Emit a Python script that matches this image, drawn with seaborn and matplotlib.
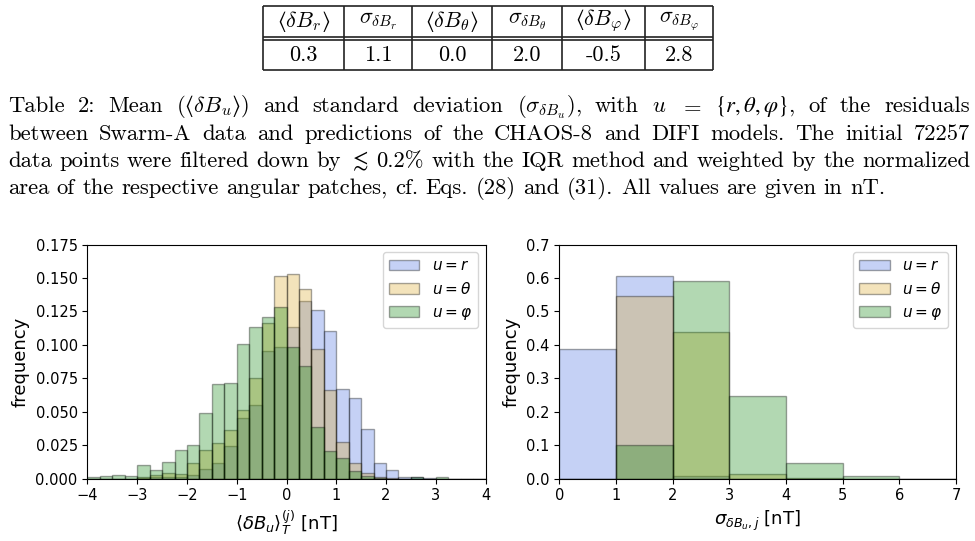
import numpy as np
import pandas as pd
import matplotlib
matplotlib.use("Agg")
import matplotlib.pyplot as plt
import seaborn as sns

# Table values
table_heads = ["$\u27e8\\delta B_r\u27e9$", r"$\sigma_{\delta B_r}$",
               "$\u27e8\\delta B_\\theta\u27e9$", r"$\sigma_{\delta B_\theta}$",
               "$\u27e8\\delta B_\\varphi\u27e9$", r"$\sigma_{\delta B_\varphi}$"]
table_vals = ["0.3", "1.1", "0.0", "2.0", "-0.5", "2.8"]

# Caption, one string per line (words separated by spaces)
caption_lines = [
    "Table 2:  Mean ($\u27e8\\delta{B}_u\u27e9$) and standard deviation ($\\sigma_{\\delta{B}_u}$), with $u$ $=$ $\\{r,\\theta,\\varphi\\}$, of the residuals",
    r"between Swarm-A data and predictions of the CHAOS-8 and DIFI models. The initial 72257",
    r"data points were filtered down by $\lesssim$ 0.2% with the IQR method and weighted by the normalized",
    r"area of the respective angular patches, cf. Eqs. (28) and (31). All values are given in nT.",
]

# Left panel: mean residuals, bins of 0.25 nT from -4 to 4
mean_edges = np.arange(-4, 4.001, 0.25)
mean_r = [0, 0, 0, 0, 0.0005, 0.0008, 0.001, 0.0015, 0.0025, 0.0073, 0.0118, 0.024,
          0.045, 0.055, 0.095, 0.098, 0.113, 0.133, 0.126, 0.110, 0.0666, 0.0599,
          0.037, 0.0115, 0.006, 0.0015, 0.001, 0.0003, 0, 0, 0, 0]
mean_theta = [0, 0, 0, 0, 0.0013, 0.0025, 0.004, 0.0035, 0.0118, 0.021, 0.0268, 0.036,
              0.051, 0.075, 0.116, 0.1515, 0.153, 0.1415, 0.097, 0.066, 0.0276, 0.0118,
              0.0038, 0.001, 0.0003, 0, 0, 0, 0, 0, 0, 0]
mean_phi = [0.001, 0.002, 0.003, 0.002, 0.010, 0.0065, 0.012, 0.021, 0.025, 0.049, 0.0706,
            0.0714, 0.1007, 0.113, 0.121, 0.128, 0.098, 0.084, 0.0386, 0.0205, 0.015,
            0.0055, 0.0017, 0.0005, 0, 0, 0.001, 0, 0.0015, 0, 0, 0]

# Right panel: standard deviations, bins of 1 nT from 0 to 7
sigma_edges = np.arange(0, 7.001, 1)
sigma_r = [0.386, 0.605, 0.008, 0, 0, 0, 0]
sigma_theta = [0, 0.545, 0.437, 0.013, 0.002, 0, 0]
sigma_phi = [0, 0.099, 0.591, 0.2455, 0.046, 0.008, 0]

labels = [r"$u = r$", r"$u = \theta$", r"$u = \varphi$"]
colors = ["royalblue", "goldenrod", "green"]

fig = plt.figure(figsize=(9.75, 5.41), dpi=100)

# overlay in pixel coordinates for table + caption
ov = fig.add_axes([0, 0, 1, 1])
ov.set_xlim(0, 975)
ov.set_ylim(541, 0)
ov.axis("off")

col_x = [263, 344, 412, 492, 562, 645, 713]
ov.hlines([6, 37, 40, 70], col_x[0], col_x[-1], color="#222222", lw=1.2)
ov.vlines(col_x, 6, 70, color="#222222", lw=1.2)
for i in range(len(table_heads)):
    xc = (col_x[i] + col_x[i + 1]) / 2
    ov.text(xc, 21, table_heads[i], ha="center", va="center", fontsize=16,
            math_fontfamily="cm")
    ov.text(xc, 55, table_vals[i], ha="center", va="center", fontsize=16,
            family="cmr10", math_fontfamily="cm")

# justified caption
renderer = fig.canvas.get_renderer()
cap_left, cap_right = 8, 970
baselines = [112, 140, 167, 194]
cap_size = 16.3
for k, line in enumerate(caption_lines):
    words = line.split()
    texts = []
    for w in words:
        # cm braces come out oversized, stix ones look right
        mfont = "stix" if "\\{" in w else "cm"
        texts.append(ov.text(0, baselines[k], w, ha="left", va="baseline",
                             fontsize=cap_size, family="cmr10", math_fontfamily=mfont))
    widths = [t.get_window_extent(renderer).width for t in texts]
    if k < len(caption_lines) - 1:
        gap = (cap_right - cap_left - sum(widths)) / (len(words) - 1)
    else:
        gap = 0.33 * cap_size / 72 * 100
    x = cap_left
    for t, w in zip(texts, widths):
        t.set_x(x)
        x += w + gap

ax1 = fig.add_axes([0.0897, 0.1155, 0.4083, 0.4325])
ax2 = fig.add_axes([0.5736, 0.1155, 0.4069, 0.4325])

mean_df = pd.DataFrame({"center": (mean_edges[:-1] + mean_edges[1:]) / 2,
                        "r": mean_r, "theta": mean_theta, "phi": mean_phi})
sigma_df = pd.DataFrame({"center": (sigma_edges[:-1] + sigma_edges[1:]) / 2,
                         "r": sigma_r, "theta": sigma_theta, "phi": sigma_phi})

for comp, lab, col in zip(["r", "theta", "phi"], labels, colors):
    sns.histplot(data=mean_df, x="center", weights=comp, bins=list(mean_edges), ax=ax1,
                 color=col, alpha=0.3, edgecolor=(0, 0, 0, 0.35), linewidth=1, label=lab)
    sns.histplot(data=sigma_df, x="center", weights=comp, bins=list(sigma_edges), ax=ax2,
                 color=col, alpha=0.3, edgecolor=(0, 0, 0, 0.35), linewidth=1, label=lab)

ax1.set_xlim(-4, 4)
ax1.set_ylim(0, 0.175)
ax1.set_xticks(range(-4, 5))
ax1.set_yticks(np.arange(0, 0.176, 0.025))
ax1.set_xlabel(r"$\langle\delta B_u\rangle_T^{(j)}$ [nT]", fontsize=13)
ax1.set_ylabel("frequency", fontsize=13)

ax2.set_xlim(0, 7)
ax2.set_ylim(0, 0.7)
ax2.set_xticks(range(0, 8))
ax2.set_xlabel(r"$\sigma_{\delta B_u, j}$ [nT]", fontsize=13)
ax2.set_ylabel("frequency", fontsize=13)

for ax in (ax1, ax2):
    ax.tick_params(labelsize=10.5)
    ax.legend(loc="upper right", fontsize=11)

fig.savefig("out.png", dpi=100)
